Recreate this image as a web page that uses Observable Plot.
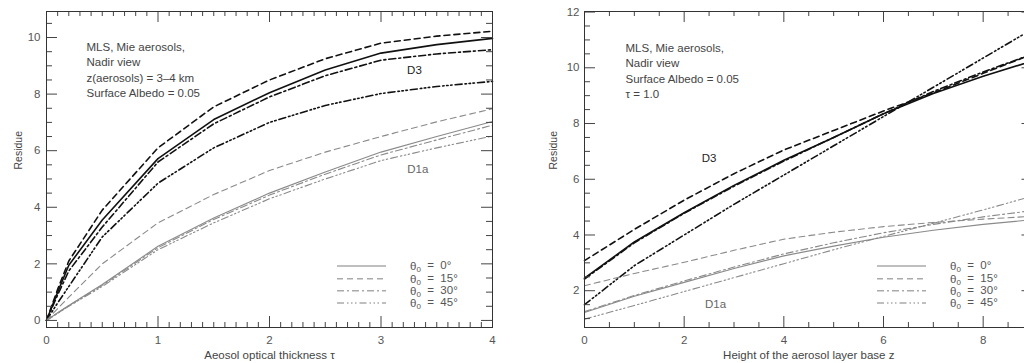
<!DOCTYPE html>
<html><head><meta charset="utf-8">
<script src="https://cdn.jsdelivr.net/npm/d3@7"></script>
<script src="https://cdn.jsdelivr.net/npm/@observablehq/plot@0.6"></script>
<style>
html,body{margin:0;padding:0;background:#fff;width:1024px;height:363px;overflow:hidden;}
#wrap{position:relative;width:1024px;height:363px;overflow:hidden;font-family:"Liberation Sans",Arial,sans-serif;}
.panel{position:absolute;top:0;}
.legend{position:absolute;top:0;left:0;}
</style></head><body><div id="wrap"></div>
<script>
// ---------- data: left panel (x = aerosol optical thickness tau) ----------
const tauValues = [0, 0.1, 0.2, 0.5, 1, 1.5, 2, 2.5, 3, 3.5, 4];
const leftD3_0  = [0, 1.0, 1.95, 3.55, 5.72, 7.1, 8.05, 8.85, 9.45, 9.75, 9.97];
const leftD3_15 = [0, 1.1, 2.1, 3.9, 6.1, 7.55, 8.5, 9.25, 9.8, 10.05, 10.22];
const leftD3_30 = [0, 0.9, 1.75, 3.3, 5.6, 6.95, 7.9, 8.65, 9.2, 9.42, 9.57];
const leftD3_45 = [0, 0.62, 1.2, 2.95, 4.85, 6.1, 7.0, 7.6, 8.02, 8.27, 8.45];
const leftD1a_0  = [0, 0.27, 0.53, 1.27, 2.62, 3.62, 4.5, 5.25, 5.95, 6.5, 7.03];
const leftD1a_15 = [0, 0.42, 0.82, 2.0, 3.45, 4.45, 5.3, 5.95, 6.5, 7.02, 7.48];
const leftD1a_30 = [0, 0.26, 0.52, 1.24, 2.57, 3.57, 4.43, 5.17, 5.85, 6.38, 6.9];
const leftD1a_45 = [0, 0.25, 0.5, 1.2, 2.5, 3.45, 4.3, 5.0, 5.65, 6.1, 6.52];

// ---------- data: right panel (x = height of aerosol layer base z) ----------
const heightValues = [0, 1, 2, 3, 4, 5, 6, 7, 8, 9];
const rightD3_0  = [2.45, 3.75, 4.8, 5.78, 6.68, 7.5, 8.35, 9.08, 9.7, 10.25];
const rightD3_15 = [3.08, 4.2, 5.25, 6.2, 7.05, 7.75, 8.45, 9.1, 9.8, 10.5];
const rightD3_30 = [2.42, 3.72, 4.78, 5.75, 6.65, 7.5, 8.35, 9.15, 9.85, 10.5];
const rightD3_45 = [1.5, 2.9, 4.0, 5.1, 6.15, 7.2, 8.25, 9.3, 10.35, 11.4];
const rightD1a_0  = [1.22, 1.8, 2.3, 2.8, 3.25, 3.6, 3.92, 4.17, 4.38, 4.55];
const rightD1a_15 = [2.18, 2.62, 3.02, 3.45, 3.85, 4.1, 4.3, 4.45, 4.57, 4.67];
const rightD1a_30 = [1.25, 1.83, 2.35, 2.85, 3.32, 3.72, 4.08, 4.38, 4.65, 4.88];
const rightD1a_45 = [0.98, 1.47, 1.97, 2.47, 2.97, 3.47, 3.95, 4.42, 4.9, 5.4];

// ---------- tick labels ----------
const leftXTicks = [0, 1, 2, 3, 4];
const leftYTicks = [0, 2, 4, 6, 8, 10];
const rightXTicks = [0, 2, 4, 6, 8];
const rightYTicks = [2, 4, 6, 8, 10, 12];

// ---------- texts ----------
const angleLabels = ["0°", "15°", "30°", "45°"];
const leftNotes = ["MLS, Mie aerosols,", "Nadir view", "z(aerosols) = 3\u20134 km", "Surface Albedo = 0.05"];
const rightNotes = ["MLS, Mie aerosols,", "Nadir view", "Surface Albedo = 0.05", "\u03c4 = 1.0"];
const leftXTitle = "Aeosol optical thickness \u03c4";
const rightXTitle = "Height of the aerosol layer base z";
const yTitle = "Residue";
const groupNames = ["D3", "D1a"];
// label anchor points (data units)
const leftTagX = [3.3, 3.33], leftTagY = [8.83, 5.34];
const rightTagX = [2.5, 2.63], rightTagY = [6.74, 1.53];

// ---------- styles ----------
const dashes = [null, "6,4", "7,3,2,3", "7,3,1.5,2.5,1.5,2.5,1.5,3"];
const groupStyle = {D3: {stroke: "#111", width: 1.6}, D1a: {stroke: "#8a8a8a", width: 1.1}};

function range(a, b, s) { const r = []; for (let v = a; v <= b + 1e-9; v += s) r.push(+v.toFixed(4)); return r; }

function makePanel(cfg) {
  const H = 363, mt = 11, mb = 36;
  const ph = H - mt - mb, pw = cfg.width - cfg.marginLeft - cfg.marginRight;
  const rows = [];
  cfg.series.forEach(s => s.values.forEach((v, i) => rows.push({x: cfg.xs[i], y: v, key: s.key})));
  const marks = [];
  cfg.series.forEach(s => {
    const st = groupStyle[s.group];
    marks.push(Plot.line(rows.filter(r => r.key === s.key), {
      x: "x", y: "y", stroke: st.stroke, strokeWidth: st.width,
      strokeDasharray: s.dash || undefined
    }));
  });
  const tk = {stroke: "#444", strokeWidth: 1};
  const xMinor = cfg.xMinor.filter(v => !cfg.xMajor.includes(v));
  const yMinor = cfg.yMinor.filter(v => !cfg.yMajor.includes(v));
  marks.push(
    Plot.tickX(cfg.xMajor, {x: d => d, insetTop: ph - 11, ...tk}),
    Plot.tickX(cfg.xMajor, {x: d => d, insetBottom: ph - 11, ...tk}),
    Plot.tickX(xMinor, {x: d => d, insetTop: ph - 5, ...tk}),
    Plot.tickX(xMinor, {x: d => d, insetBottom: ph - 5, ...tk}),
    Plot.tickY(cfg.yMajor, {y: d => d, insetRight: pw - 11, ...tk}),
    Plot.tickY(cfg.yMajor, {y: d => d, insetLeft: pw - 11, ...tk}),
    Plot.tickY(yMinor, {y: d => d, insetRight: pw - 6, ...tk}),
    Plot.tickY(yMinor, {y: d => d, insetLeft: pw - 6, ...tk}),
    Plot.frame({stroke: "#333", strokeWidth: 1}),
    Plot.axisX({ticks: cfg.xMajor, tickSize: 0, tickPadding: 8, label: null, tickFormat: d => String(d), fontSize: 11.5}),
    Plot.axisY({ticks: cfg.yMajor, tickSize: 0, tickPadding: cfg.yPad, label: null, tickFormat: d => String(d), fontSize: 11.5}),
    Plot.text([cfg.notes.join("\n")], {frameAnchor: "top-left", dx: cfg.notesDx, dy: cfg.notesDy, lineAnchor: "top", textAnchor: "start", lineHeight: 1.35, fontSize: 11.5, fill: "#444"}),
    Plot.text([cfg.xTitle], {frameAnchor: "bottom", dy: 27.5, lineAnchor: "middle", fontSize: 11.5, fill: "#444"}),
    Plot.text([yTitle], {frameAnchor: "left", dx: cfg.yTitleDx, rotate: -90, fontSize: 10.5, fill: "#444"}),
    Plot.text(groupNames, {x: (d, i) => cfg.tagX[i], y: (d, i) => cfg.tagY[i], text: d => d, fontSize: 11.5, fill: (d, i) => i === 0 ? "#222" : "#666"})
  );
  const svg = Plot.plot({
    width: cfg.width, height: H,
    marginLeft: cfg.marginLeft, marginRight: cfg.marginRight, marginTop: mt, marginBottom: mb,
    x: {domain: cfg.xDomain},
    y: {domain: cfg.yDomain},
    style: {fontFamily: '"Liberation Sans", Arial, sans-serif', fontSize: "11.5px", color: "#555", background: "transparent", overflow: "visible"},
    marks
  });
  svg.classList.add("panel");
  svg.style.left = cfg.left + "px";
  return svg;
}

function makeSeries(arrs) {
  const groups = ["D3", "D3", "D3", "D3", "D1a", "D1a", "D1a", "D1a"];
  return arrs.map((values, i) => ({key: groups[i] + "_" + (i % 4), group: groups[i], dash: dashes[i % 4], values}));
}

function makeLegend(lineX0, lineX1, textX, rowY) {
  const svg = d3.create("svg").attr("class", "legend").attr("width", 1024).attr("height", 363)
    .style("font-family", '"Liberation Sans", Arial, sans-serif');
  angleLabels.forEach((lab, i) => {
    svg.append("line").attr("x1", lineX0).attr("x2", lineX1).attr("y1", rowY[i]).attr("y2", rowY[i])
      .attr("stroke", "#aaa").attr("stroke-width", 1.5).attr("stroke-dasharray", dashes[i]);
    const t = svg.append("text").attr("x", textX).attr("y", rowY[i]).attr("dy", "0.35em")
      .attr("font-size", 11.5).attr("fill", "#555").style("white-space", "pre");
    t.append("tspan").text("\u03b8");
    t.append("tspan").attr("font-size", 8).attr("dy", "0.3em").text("0");
    t.append("tspan").attr("dy", "-0.3em").text("  =  " + lab);
  });
  return svg.node();
}

const wrap = document.getElementById("wrap");
wrap.appendChild(makePanel({
  left: 0, width: 510, marginLeft: 46, marginRight: 18,
  xs: tauValues,
  series: makeSeries([leftD3_0, leftD3_15, leftD3_30, leftD3_45, leftD1a_0, leftD1a_15, leftD1a_30, leftD1a_45]),
  xDomain: [0, 4], yDomain: [-0.25, 10.92],
  xMajor: leftXTicks, xMinor: range(0, 4, 0.1),
  yMajor: leftYTicks, yMinor: range(0, 10.5, 0.5),
  yPad: 6, notes: leftNotes, notesDx: 40, notesDy: 28, xTitle: leftXTitle, yTitleDx: -28,
  tagX: leftTagX, tagY: leftTagY
}));
wrap.appendChild(makePanel({
  left: 510, width: 540, marginLeft: 74, marginRight: 17.5,
  xs: heightValues,
  series: makeSeries([rightD3_0, rightD3_15, rightD3_30, rightD3_45, rightD1a_0, rightD1a_15, rightD1a_30, rightD1a_45]),
  xDomain: [0, 9], yDomain: [0.68, 12.02],
  xMajor: rightXTicks, xMinor: range(0, 9, 0.5),
  yMajor: rightYTicks, yMinor: range(1, 12, 0.5),
  yPad: 5, notes: rightNotes, notesDx: 41, notesDy: 29, xTitle: rightXTitle, yTitleDx: -31,
  tagX: rightTagX, tagY: rightTagY
}));
wrap.appendChild(makeLegend(337, 386, 410, [266, 278.7, 290.7, 303]));
wrap.appendChild(makeLegend(877, 926, 950, [266, 278.7, 290.7, 303]));
</script></body></html>
